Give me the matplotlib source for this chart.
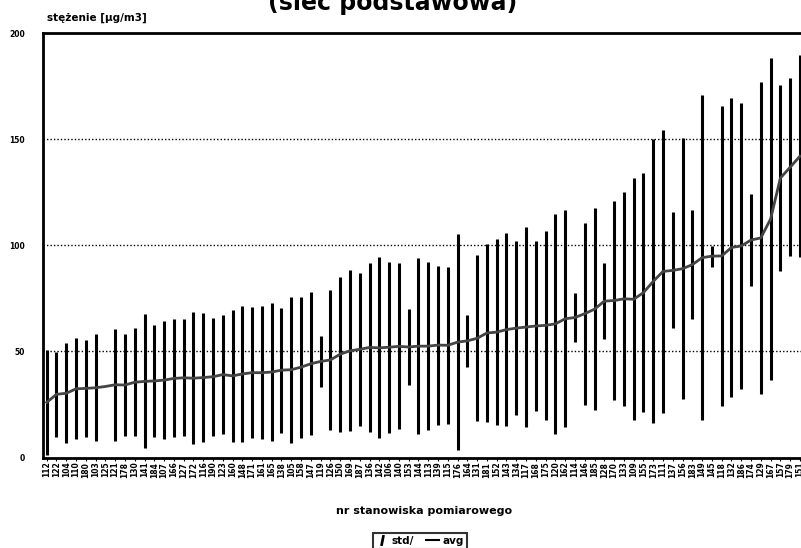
import matplotlib
matplotlib.use("Agg")
import matplotlib.pyplot as plt
from matplotlib.lines import Line2D
import numpy as np

# station labels (scan is blurry, numbers estimated)
stations = ['112', '122', '104', '110', '180', '103', '125', '121', '178', '130',
            '141', '184', '107', '166', '127', '172', '116', '190', '123', '160',
            '148', '171', '161', '165', '138', '105', '158', '147', '119', '126',
            '150', '169', '187', '136', '142', '106', '140', '153', '144', '113',
            '139', '115', '176', '164', '131', '181', '152', '143', '134', '117',
            '168', '175', '120', '162', '114', '146', '185', '128', '170', '133',
            '109', '155', '173', '111', '137', '156', '183', '149', '145', '118',
            '132', '186', '174', '129', '167', '157', '179', '151']

avg = [26.0, 29.8, 30.3, 32.4, 32.6, 32.9, 33.5, 34.3, 34.2, 35.5,
       35.9, 36.1, 36.5, 37.3, 37.6, 37.4, 37.7, 38.1, 39.1, 38.5,
       39.4, 40.0, 40.0, 40.3, 41.2, 41.4, 42.6, 44.2, 45.3, 46.0,
       48.7, 50.3, 51.0, 51.9, 51.7, 52.0, 52.4, 52.1, 52.5, 52.5,
       53.0, 52.9, 54.4, 55.0, 56.2, 58.7, 59.1, 60.3, 61.0, 61.5,
       62.0, 62.3, 63.0, 65.4, 66.0, 67.8, 69.9, 73.7, 74.0, 74.8,
       74.6, 77.7, 83.0, 87.7, 88.2, 89.0, 90.9, 94.2, 94.9, 95.0,
       99.0, 99.7, 102.5, 103.5, 112.4, 131.7, 136.8, 142.0]

std = [24.7, 20.0, 23.5, 23.8, 22.8, 25.1, 0.0, 26.5, 23.8, 25.4,
       31.6, 26.3, 27.9, 27.8, 27.5, 31.0, 30.2, 27.8, 28.0, 31.0,
       32.2, 31.0, 31.4, 32.4, 29.4, 34.4, 33.2, 33.6, 11.9, 33.0,
       36.5, 38.0, 36.2, 39.7, 42.6, 40.3, 39.1, 17.9, 41.3, 39.5,
       37.5, 37.0, 50.9, 12.2, 39.2, 41.9, 43.8, 45.5, 41.0, 47.0,
       40.0, 44.5, 51.7, 51.2, 11.4, 42.8, 47.5, 17.9, 47.0, 50.4,
       56.9, 56.2, 66.9, 66.6, 27.3, 61.4, 25.8, 76.5, 5.0, 70.6,
       70.6, 67.5, 21.7, 73.6, 76.0, 43.7, 41.9, 47.7]

y_ticks = [0, 50, 100, 150, 200]

fig = plt.figure(figsize=(8.01, 5.48), dpi=100)
ax = fig.add_axes([0.054, 0.165, 0.952, 0.7746])

x = np.arange(1, len(avg) + 1)

# dotted reference lines
for yv in [50, 100, 150]:
    ax.axhline(yv, color='black', lw=1, linestyle=(0, (1, 1.5)), zorder=1)

ax.errorbar(x, avg, yerr=std, fmt='none', ecolor='black', elinewidth=2.2,
            capsize=0, zorder=3)
ax.plot(x, avg, color='#444444', lw=2, zorder=4)

ax.set_xlim(0.65, 78.6)
ax.set_ylim(0, 200)
ax.set_yticks(y_ticks)
ax.set_yticklabels([str(v) for v in y_ticks], fontsize=5.5, fontweight='bold')
ax.tick_params(axis='y', length=0, pad=13)
ax.set_xticks(x)
ax.set_xticklabels(stations, rotation=90, fontsize=5.5, fontweight='bold')
ax.tick_params(axis='x', length=2, pad=1)

for side in ['left', 'bottom', 'top']:
    ax.spines[side].set_linewidth(2)
ax.spines['right'].set_visible(False)

ax.set_xlabel('nr stanowiska pomiarowego', fontsize=8, fontweight='bold', labelpad=20)

fig.text(0.059, 0.968, 'stężenie [µg/m3]', fontsize=7.5, fontweight='bold',
         ha='left', va='center')
# title is partly cut off at the top in the scan
fig.text(0.49, 0.981, '(sieć podstawowa)', fontsize=17, fontweight='bold',
         ha='center', va='baseline')

handles = [Line2D([], [], color='black', marker='$I$', linestyle='None', markersize=7),
           Line2D([], [], color='black', lw=1.5)]
leg = fig.legend(handles, ['std/', 'avg'], loc='upper center', ncol=2,
                 bbox_to_anchor=(0.524, 0.037), fontsize=7.5, frameon=True,
                 fancybox=False, edgecolor='black', handlelength=1.2,
                 handletextpad=0.3, columnspacing=1.2, borderpad=0.3)
for t in leg.get_texts():
    t.set_fontweight('bold')
leg.get_frame().set_linewidth(1.5)

fig.savefig('out.png', dpi=100)
